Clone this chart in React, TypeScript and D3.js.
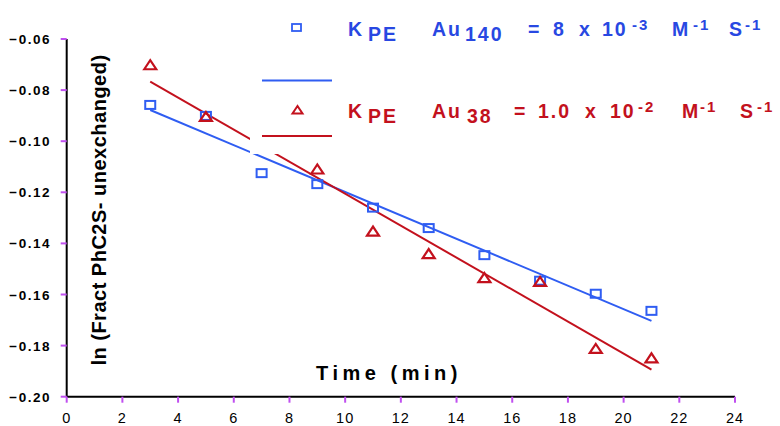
import * as d3 from 'd3'

// measured data (time in min, ln of unexchanged fraction)
const times140 = [3, 5, 7, 9, 11, 13, 15, 17, 19, 21]
const au140 = [-0.0858, -0.0901, -0.1125, -0.1168, -0.126, -0.134, -0.1446, -0.1546, -0.1597, -0.1664]
const times38 = [3, 5, 9, 11, 13, 15, 17, 19, 21]
const au38 = [-0.0702, -0.0904, -0.111, -0.1353, -0.1441, -0.1535, -0.155, -0.1812, -0.1849]

// linear fits, end points
const fitTimes = [3, 21]
const fit140 = [-0.0878, -0.1703]
const fit38 = [-0.0767, -0.1894]

const xTicks = [0, 2, 4, 6, 8, 10, 12, 14, 16, 18, 20, 22, 24]
const yTicks = [-0.06, -0.08, -0.1, -0.12, -0.14, -0.16, -0.18, -0.2]

const legend140 = ['K', 'PE', 'Au', '140', '=', '8', 'x', '10', '-3', 'M', '-1', 'S', '-1']
const legend38 = ['K', 'PE', 'Au', '38', '=', '1.0', 'x', '10', '-2', 'M', '-1', 'S', '-1']
// 0 = normal, 1 = subscript, 2 = superscript
const legendKind = [0, 1, 0, 1, 0, 0, 0, 0, 2, 0, 2, 0, 2]

const BLUE = '#2f5df2'
const BLUE_TXT = '#2848e2'
const RED = '#c3111d'
const TICK = '#c050f0'
const FONT = '"Liberation Sans", Arial, sans-serif'

const W = 780
const H = 426

export default function App() {
  const x = d3.scaleLinear().domain([0, 24]).range([66.7, 735])
  const y = d3.scaleLinear().domain([-0.2, -0.06]).range([396.7, 39])

  const line = d3.line<[number, number]>().x(d => x(d[0])).y(d => y(d[1]))
  const fitA = line(fitTimes.map((t, i) => [t, fit140[i]]))
  const fitB = line(fitTimes.map((t, i) => [t, fit38[i]]))

  const sq = 10
  const tri = (cx: number, cy: number, s: number) =>
    `M${cx - s / 2},${cy + s * 0.35}L${cx},${cy - s * 0.4}L${cx + s / 2},${cy + s * 0.35}Z`

  const legendRow = (parts: string[], xs: number[], base: number, color: string) => (
    <text fill={color} fontFamily={FONT} fontWeight="bold" fontSize={19.5} letterSpacing={2}>
      {parts.map((p, i) => {
        const k = legendKind[i]
        return (
          <tspan key={i} x={xs[i]} y={k === 1 ? base + 4.5 : k === 2 ? base - 6 : base}
            fontSize={k === 2 ? 15 : 19.5}>
            {p}
          </tspan>
        )
      })}
    </text>
  )

  const xs140 = [348, 368, 432, 465, 528, 553, 579, 602, 632, 672, 693, 729, 745]
  const xs38 = [348, 368, 432, 467, 514, 538, 585, 610, 638, 682, 700, 740, 757]

  return (
    <svg width={W} height={H} style={{ position: 'absolute', left: 0, top: 0, background: '#fff' }}>
      {/* fit lines */}
      <path d={fitA ?? ''} fill="none" stroke={BLUE} strokeWidth={2} />
      <path d={fitB ?? ''} fill="none" stroke={RED} strokeWidth={2} />

      {/* data */}
      {times140.map((t, i) => (
        <rect key={'b' + i} x={x(t) - sq / 2} y={y(au140[i]) - sq / 2 + 1} width={sq} height={sq - 2}
          fill="none" stroke={BLUE} strokeWidth={2} />
      ))}
      {times38.map((t, i) => (
        <path key={'r' + i} d={tri(x(t), y(au38[i]), 12)} fill="none" stroke={RED} strokeWidth={2.2} />
      ))}

      {/* legend box hides part of lines */}
      <rect x={250} y={0} width={530} height={154} fill="#fff" />
      <rect x={292} y={24} width={9} height={7} fill="none" stroke={BLUE} strokeWidth={1.8} />
      <line x1={262} x2={332} y1={80.5} y2={80.5} stroke={BLUE} strokeWidth={2} />
      <path d={tri(297.5, 110, 10)} fill="none" stroke={RED} strokeWidth={2} />
      <line x1={262} x2={332} y1={136} y2={136} stroke={RED} strokeWidth={2} />
      {legendRow(legend140, xs140, 36, BLUE_TXT)}
      {legendRow(legend38, xs38, 118, RED)}

      {/* axes */}
      <line x1={x(0)} x2={x(24)} y1={y(-0.2)} y2={y(-0.2)} stroke="#000" strokeWidth={2} />
      <line x1={x(0)} x2={x(0)} y1={y(-0.2)} y2={y(-0.06)} stroke="#000" strokeWidth={2} />
      {xTicks.map(t => (
        <g key={'xt' + t}>
          <line x1={x(t)} x2={x(t)} y1={y(-0.2)} y2={y(-0.2) + 6} stroke={TICK} strokeWidth={2} />
          <text x={x(t)} y={423} textAnchor="middle" fontFamily={FONT} fontSize={14.5} letterSpacing={1}>
            {String(t)}
          </text>
        </g>
      ))}
      {yTicks.map(t => (
        <g key={'yt' + t}>
          <line x1={x(0) - 6} x2={x(0)} y1={y(t)} y2={y(t)} stroke={TICK} strokeWidth={2} />
          <text x={51} y={y(t) + 5} textAnchor="end" fontFamily={FONT} fontWeight="bold" fontSize={13.5}
            letterSpacing={1.5}>
            {d3.format('.2f')(t)}
          </text>
        </g>
      ))}

      {/* axis titles */}
      <text x={389} y={380} textAnchor="middle" fontFamily={FONT} fontWeight="bold" fontSize={20}
        letterSpacing={4.5}>
        Time (min)
      </text>
      <text transform="translate(106,210) rotate(-90)" textAnchor="middle" fontFamily={FONT}
        fontWeight="bold" fontSize={20} letterSpacing={0.5}>
        ln (Fract PhC2S- unexchanged)
      </text>
    </svg>
  )
}
